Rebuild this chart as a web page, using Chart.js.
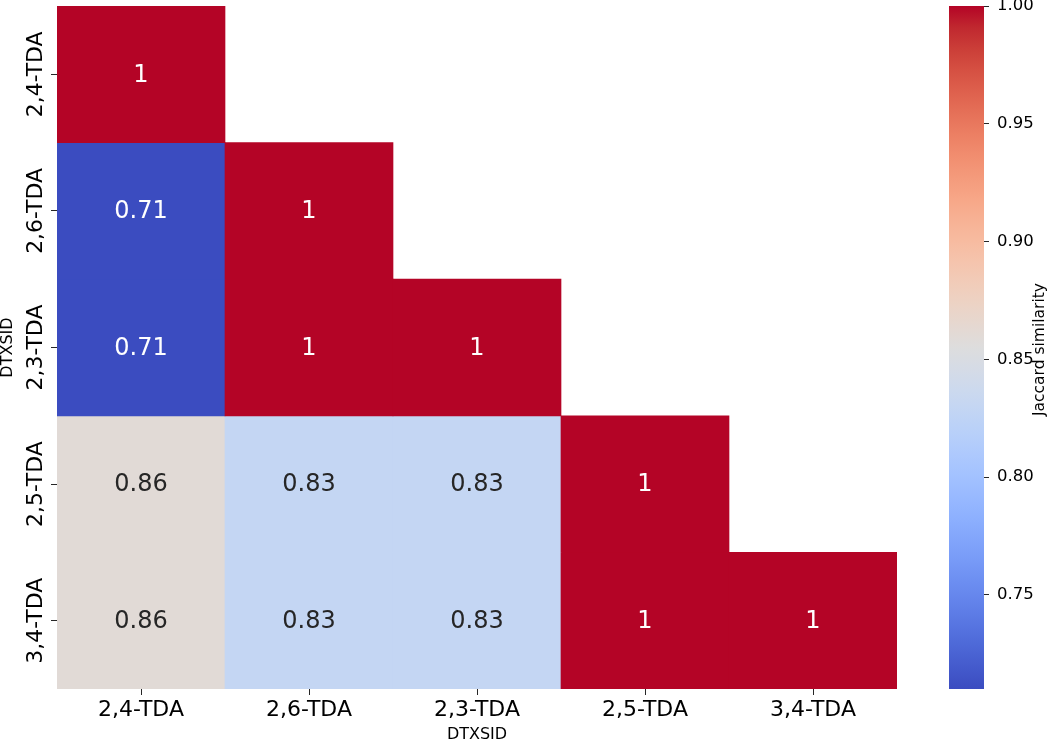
<!DOCTYPE html>
<html><head><meta charset="utf-8">
<script src="https://cdn.jsdelivr.net/npm/chart.js@4"></script>
<style>
html,body{margin:0;padding:0;background:#fff;}
#wrap{position:relative;width:1050px;height:743px;overflow:hidden;}
#main{position:absolute;left:0;top:0;}
#cbar{position:absolute;left:900px;top:0;}
</style></head><body>
<div id="wrap"><canvas id="main" width="940" height="743"></canvas><canvas id="cbar" width="150" height="743"></canvas></div>
<script>
// ---- data ----
const categories = ['2,4-TDA', '2,6-TDA', '2,3-TDA', '2,5-TDA', '3,4-TDA'];
const row0 = [1];
const row1 = [0.71, 1];
const row2 = [0.71, 1, 1];
const row3 = [0.86, 0.83, 0.83, 1];
const row4 = [0.86, 0.83, 0.83, 1, 1];
const rows = [row0, row1, row2, row3, row4];
const cbarTicks = [0.75, 0.80, 0.85, 0.90, 0.95, 1.00];
const cbarLabel = 'Jaccard similarity';
const axisTitle = 'DTXSID';

const vmin = Math.min(...rows.flat());
const vmax = Math.max(...rows.flat());

// coolwarm colormap (Moreland)
const CW = [[59,76,192],[68,90,204],[77,104,215],[87,117,225],[98,130,234],[108,142,241],[119,154,247],[130,165,251],[141,176,254],[152,185,255],[163,194,255],[174,201,253],[184,208,249],[194,213,244],[204,217,238],[213,219,230],[221,221,221],[229,216,209],[236,211,197],[241,204,185],[245,196,173],[247,187,160],[247,177,148],[247,166,135],[244,154,123],[241,141,111],[236,127,99],[229,112,88],[222,96,77],[213,80,66],[203,62,56],[192,40,47],[180,4,38]];
function cmapRGB(t){
  t = Math.max(0, Math.min(1, t));
  const f = t * (CW.length - 1);
  const i = Math.min(CW.length - 2, Math.floor(f));
  const r = f - i;
  return CW[i].map((c, k) => Math.round(c + (CW[i+1][k] - c) * r));
}
function colorFor(v){
  const c = cmapRGB((v - vmin) / (vmax - vmin));
  return `rgb(${c[0]},${c[1]},${c[2]})`;
}
function textColorFor(v){
  const c = cmapRGB((v - vmin) / (vmax - vmin)).map(x => {
    x /= 255; return x <= 0.03928 ? x / 12.92 : Math.pow((x + 0.055) / 1.055, 2.4);
  });
  const lum = 0.2126 * c[0] + 0.7152 * c[1] + 0.0722 * c[2];
  return lum > 0.408 ? '#262626' : '#ffffff';
}

const FONT = "'DejaVu Sans', sans-serif";

const datasets = rows.map((r, i) => ({
  label: categories[i],
  data: categories.map((c, j) => j < r.length ? [i, i + 1] : null),
  backgroundColor: categories.map((c, j) => j < r.length ? colorFor(r[j]) : 'rgba(0,0,0,0)'),
  borderWidth: 0,
  grouped: false,
  barPercentage: 1,
  categoryPercentage: 1
}));

const cellLabels = {
  id: 'cellLabels',
  afterDatasetsDraw(chart){
    const ctx = chart.ctx;
    ctx.save();
    ctx.font = `24px ${FONT}`;
    ctx.textAlign = 'center';
    ctx.textBaseline = 'middle';
    rows.forEach((r, i) => {
      const meta = chart.getDatasetMeta(i);
      meta.data.forEach((el, j) => {
        if (j >= r.length) return;
        const p = el.getProps(['x', 'y', 'base'], true);
        ctx.fillStyle = textColorFor(r[j]);
        ctx.fillText(String(r[j]), p.x, (p.y + p.base) / 2 + 1);
      });
    });
    ctx.restore();
  }
};

const yLabels = {
  id: 'yLabels',
  afterDraw(chart){
    const ys = chart.scales.y;
    const ctx = chart.ctx;
    ctx.save();
    ctx.font = `22px ${FONT}`;
    ctx.fillStyle = '#000';
    ctx.textAlign = 'center';
    ctx.textBaseline = 'alphabetic';
    ys.ticks.forEach((t, k) => {
      const p = ys.getPixelForValue(t.value);
      ctx.save();
      ctx.translate(42, p);
      ctx.rotate(-Math.PI / 2);
      ctx.fillText(categories[k], 0, 0);
      ctx.restore();
    });
    ctx.restore();
  }
};

new Chart(document.getElementById('main'), {
  type: 'bar',
  data: { labels: categories, datasets },
  options: {
    responsive: false,
    animation: false,
    layout: { padding: { top: 6, right: 43, left: 0, bottom: 0 } },
    plugins: { legend: { display: false }, tooltip: { enabled: false } },
    scales: {
      x: {
        type: 'category',
        offset: true,
        grid: { offset: false, drawOnChartArea: false, drawTicks: true, tickLength: 6, color: '#262626', lineWidth: 1 },
        border: { display: false },
        ticks: { font: { family: FONT, size: 22 }, color: '#000', padding: 2, maxRotation: 0, minRotation: 0 },
        title: { display: true, text: axisTitle, font: { family: FONT, size: 16, lineHeight: 1 }, color: '#000', padding: 0 },
        afterFit(s){ s.height = 54; s.paddingLeft = 0; s.paddingRight = 0; }
      },
      y: {
        type: 'linear',
        min: 0, max: 5,
        reverse: true,
        afterBuildTicks(s){ s.ticks = categories.map((c, k) => ({ value: k + 0.5 })); },
        ticks: { display: false },
        grid: { drawOnChartArea: false, drawTicks: true, tickLength: 6, color: '#262626', lineWidth: 1 },
        border: { display: false },
        title: { display: true, text: axisTitle, font: { family: FONT, size: 16, lineHeight: 1 }, color: '#000', padding: 0 },
        afterFit(s){ s.width = 57; s.paddingTop = 0; s.paddingBottom = 0; }
      }
    }
  },
  plugins: [cellLabels, yLabels]
});

// ---- colorbar ----
const cbarTitle = {
  id: 'cbarTitle',
  afterDraw(chart){
    const ca = chart.chartArea;
    const ctx = chart.ctx;
    ctx.save();
    ctx.font = `15.5px ${FONT}`;
    ctx.fillStyle = '#000';
    ctx.textAlign = 'center';
    ctx.textBaseline = 'middle';
    ctx.translate(140, (ca.top + ca.bottom) / 2 + 2);
    ctx.rotate(-Math.PI / 2);
    ctx.fillText(cbarLabel, 0, 0);
    ctx.restore();
  }
};

new Chart(document.getElementById('cbar'), {
  type: 'bar',
  data: {
    labels: [''],
    datasets: [{
      data: [[vmin, vmax]],
      borderWidth: 0,
      barPercentage: 1,
      categoryPercentage: 1,
      backgroundColor(context){
        const chart = context.chart;
        if (!chart.chartArea) return 'rgba(0,0,0,0)';
        const ys = chart.scales.y;
        const y0 = ys.getPixelForValue(vmin), y1 = ys.getPixelForValue(vmax);
        const g = chart.ctx.createLinearGradient(0, y0, 0, y1);
        CW.forEach((c, k) => g.addColorStop(k / (CW.length - 1), `rgb(${c[0]},${c[1]},${c[2]})`));
        return g;
      }
    }]
  },
  options: {
    responsive: false,
    animation: false,
    layout: { padding: { top: 6, right: 0, left: 49, bottom: 54 } },
    plugins: { legend: { display: false }, tooltip: { enabled: false } },
    scales: {
      x: { display: false },
      y: {
        type: 'linear',
        position: 'right',
        min: vmin, max: vmax,
        afterBuildTicks(s){ s.ticks = cbarTicks.map(v => ({ value: v })); },
        ticks: { font: { family: FONT, size: 16.5 }, color: '#000', padding: 8, callback: v => Number(v).toFixed(2) },
        grid: { drawOnChartArea: false, drawTicks: true, tickLength: 5, color: '#262626', lineWidth: 1 },
        border: { display: false },
        afterFit(s){ s.width = 66; s.paddingTop = 0; s.paddingBottom = 0; }
      }
    }
  },
  plugins: [cbarTitle]
});
</script>
</body></html>
